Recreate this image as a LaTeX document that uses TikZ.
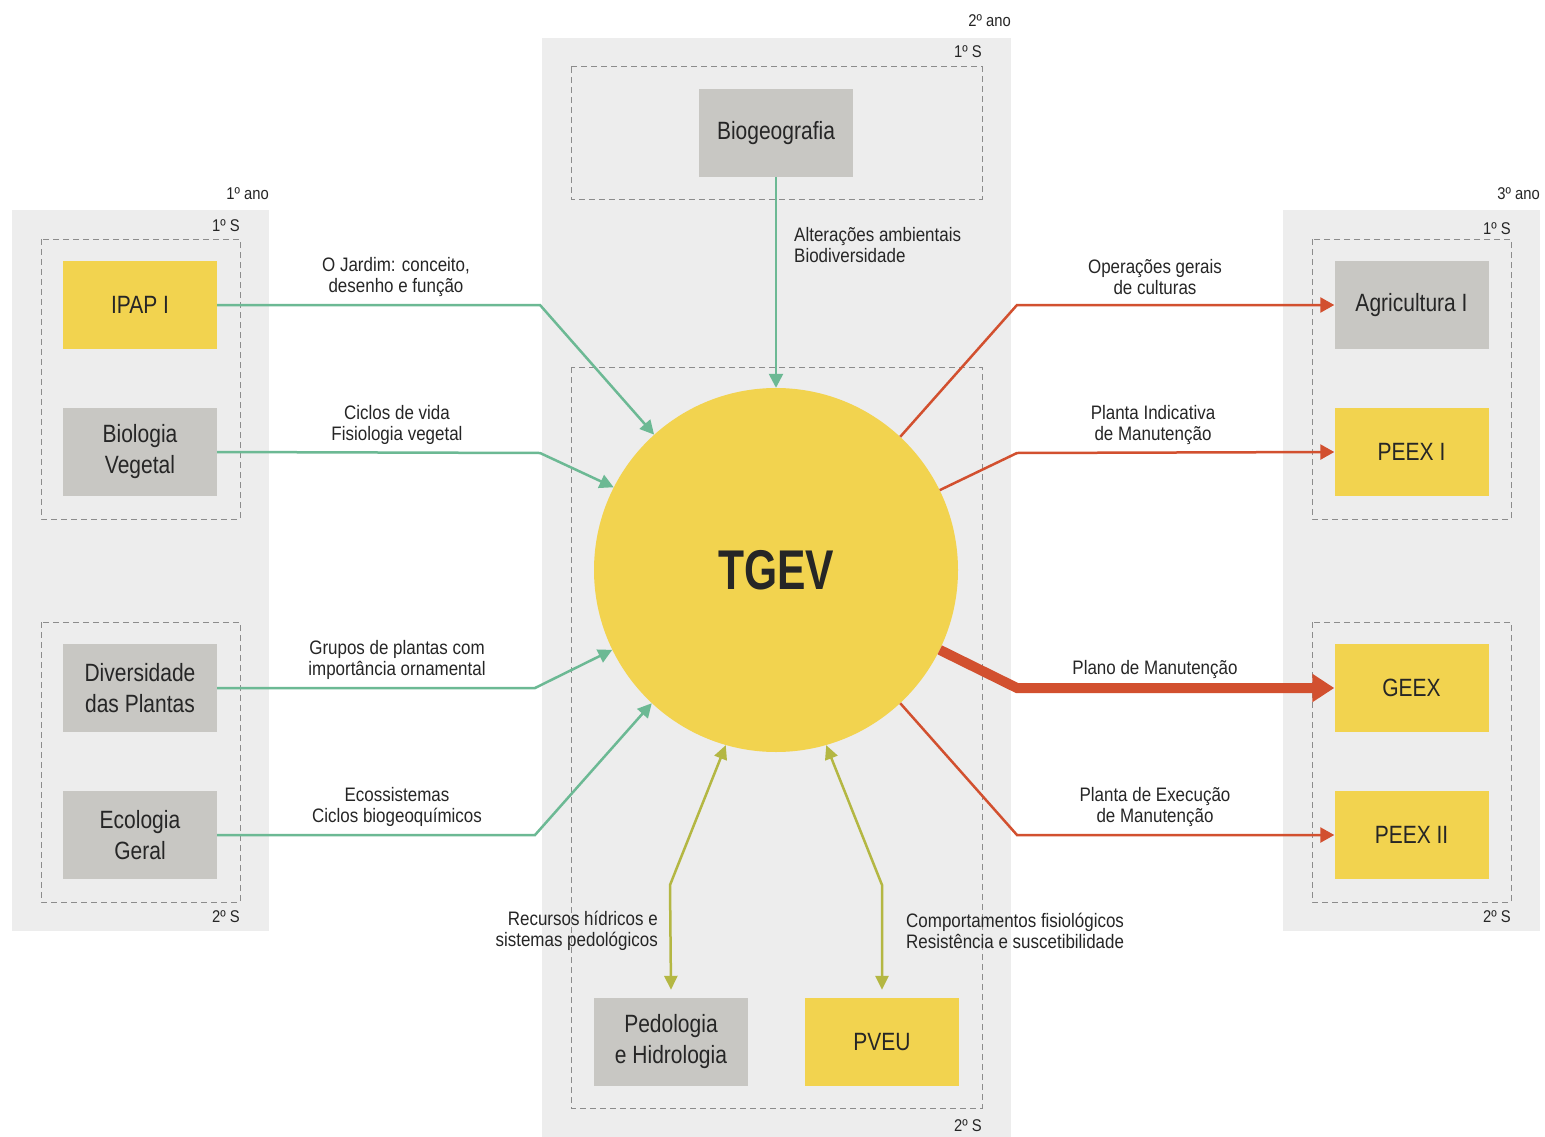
\documentclass[tikz,border=0pt]{standalone}
\usepackage{fontspec}
\setmainfont{Liberation Sans}[FakeStretch=0.84]
\newfontfamily\lblfont{Liberation Sans}[FakeStretch=0.87]
\newfontfamily\tgevfont{Liberation Sans}[FakeStretch=0.76]
\usetikzlibrary{arrows.meta}
\definecolor{panelc}{HTML}{EDEDED}
\definecolor{ycol}{HTML}{F2D34F}
\definecolor{gcol}{HTML}{C8C7C3}
\definecolor{green}{HTML}{6CB994}
\definecolor{redc}{HTML}{D2502F}
\definecolor{olive}{HTML}{B4B743}
\definecolor{txt}{HTML}{262626}
\definecolor{dashc}{HTML}{8C8C8C}
\begin{document}
\begin{tikzpicture}[x=1pt,y=-1pt,
  course/.style={minimum width=154pt,minimum height=88pt,inner sep=0pt,align=center,text=txt,font=\fontsize{25}{31}\selectfont},
  ybox/.style={course,fill=ycol},
  gbox/.style={course,fill=gcol},
  lbl/.style={align=center,text=txt,inner sep=0pt,font=\lblfont\fontsize{19.5}{21.5}\selectfont},
  small/.style={text=txt,inner sep=0pt,font=\lblfont\fontsize{17}{19}\selectfont},
  frame/.style={draw=dashc,line width=1pt,dash pattern=on 6pt off 4pt},
  garrow/.style={draw=green,line width=2.5pt,-{Triangle[length=14pt,width=14pt]}},
  rarrow/.style={draw=redc,line width=2.5pt,-{Triangle[length=14pt,width=15pt]}},
  oarrow/.style={draw=olive,line width=2.5pt,{Triangle[length=14pt,width=13pt]}-{Triangle[length=14pt,width=13pt]}}
]
\useasboundingbox (0,0) rectangle (1545,1137);
\fill[white] (0,0) rectangle (1545,1137);
% panels
\fill[panelc] (12,210) rectangle (269,931);
\fill[panelc] (542,38) rectangle (1011,1137);
\fill[panelc] (1283,210) rectangle (1540,931);
% dashed semester frames
\draw[frame] (41,239) rectangle (240,519);
\draw[frame] (41,622) rectangle (240,902);
\draw[frame] (571,67) rectangle (982,199);
\draw[frame] (571,367) rectangle (982,1108);
\draw[frame] (1312,239) rectangle (1511,519);
\draw[frame] (1312,622) rectangle (1511,902);
% year / semester labels
\node[small,anchor=base east] (y1) at (269,199) {1º ano};
\node[small,anchor=base east] (y2) at (1011,27) {2º ano};
\node[small,anchor=base east] (y3) at (1540,199) {3º ano};
\node[small,anchor=base east] (s11) at (240,231) {1º S};
\node[small,anchor=base east] (s12) at (240,922) {2º S};
\node[small,anchor=base east] (s21) at (982,58) {1º S};
\node[small,anchor=base east] (s22) at (982,1131) {2º S};
\node[small,anchor=base east] (s31) at (1511,234) {1º S};
\node[small,anchor=base east] (s32) at (1511,922) {2º S};
% course boxes
\node[ybox] (ipap) at (140,305) {IPAP I};
\node[gbox] (biov) at (140,452) {Biologia\\Vegetal};
\node[gbox] (div) at (140,688) {Diversidade\\das Plantas};
\node[gbox] (eco) at (140,835) {Ecologia\\Geral};
\node[gbox] (biog) at (776,133) {Biogeografia};
\node[gbox] (ped) at (671,1042) {Pedologia\\e Hidrologia};
\node[ybox] (pveu) at (882,1042) {PVEU};
\node[gbox] (agr) at (1411.5,305) {Agricultura I};
\node[ybox] (peex1) at (1411.5,452) {PEEX I};
\node[ybox] (geex) at (1411.5,688) {GEEX};
\node[ybox] (peex2) at (1411.5,835) {PEEX II};
% central circle
\node[circle,fill=ycol,minimum size=364pt,inner sep=0pt,text=txt,font=\tgevfont\fontsize{56}{60}\selectfont\bfseries] (tgev) at (776,570) {TGEV};
% green arrows (inputs)
\draw[garrow] (ipap.east) -- (540,305) -- (tgev.132.8);
\draw[garrow] (biov.east) -- (540,453) -- (tgev.153.4);
\draw[garrow] (div.east) -- (535,688) -- (tgev.206.3);
\draw[garrow] (eco.east) -- (535,835) -- (tgev.227.2);
\draw[garrow] (biog.south) -- (tgev.north);
% red arrows (outputs)
\draw[rarrow] (tgev.47) -- (1017,305) -- (agr.west);
\draw[rarrow] (tgev.26.3) -- (1017,453) -- (peex1.west);
\draw[draw=redc,line width=10pt,-{Triangle[length=22pt,width=27pt]}] (tgev.-26.8) -- (1017,688) -- (geex.west);
\draw[rarrow] (tgev.-47) -- (1017,835) -- (peex2.west);
% olive two-way arrows
\draw[oarrow] (tgev.254.4) -- (670,885) -- ([yshift=8pt]ped.north);
\draw[oarrow] (tgev.-74) -- (882,885) -- ([yshift=8pt]pveu.north);
% connector labels
\node[lbl] (l1) at (396,277) {O Jardim: conceito,\\desenho e função};
\node[lbl] (l2) at (397,425) {Ciclos de vida\\Fisiologia vegetal};
\node[lbl] (l3) at (397,660) {Grupos de plantas com\\importância ornamental};
\node[lbl] (l4) at (397,807) {Ecossistemas\\Ciclos biogeoquímicos};
\node[lbl,align=left,anchor=west] (l5) at (794,245) {Alterações ambientais\\Biodiversidade};
\node[lbl] (l6) at (1155,277) {Operações gerais\\de culturas};
\node[lbl] (l7) at (1153,425) {Planta Indicativa\\de Manutenção};
\node[lbl] (l8) at (1155,669) {Plano de Manutenção};
\node[lbl] (l9) at (1155,807) {Planta de Execução\\de Manutenção};
\node[lbl,align=right,anchor=east] (l10) at (658,931) {Recursos hídricos e\\sistemas pedológicos};
\node[lbl,align=left,anchor=west] (l11) at (906,931) {Comportamentos fisiológicos\\Resistência e suscetibilidade};
\end{tikzpicture}
\end{document}
